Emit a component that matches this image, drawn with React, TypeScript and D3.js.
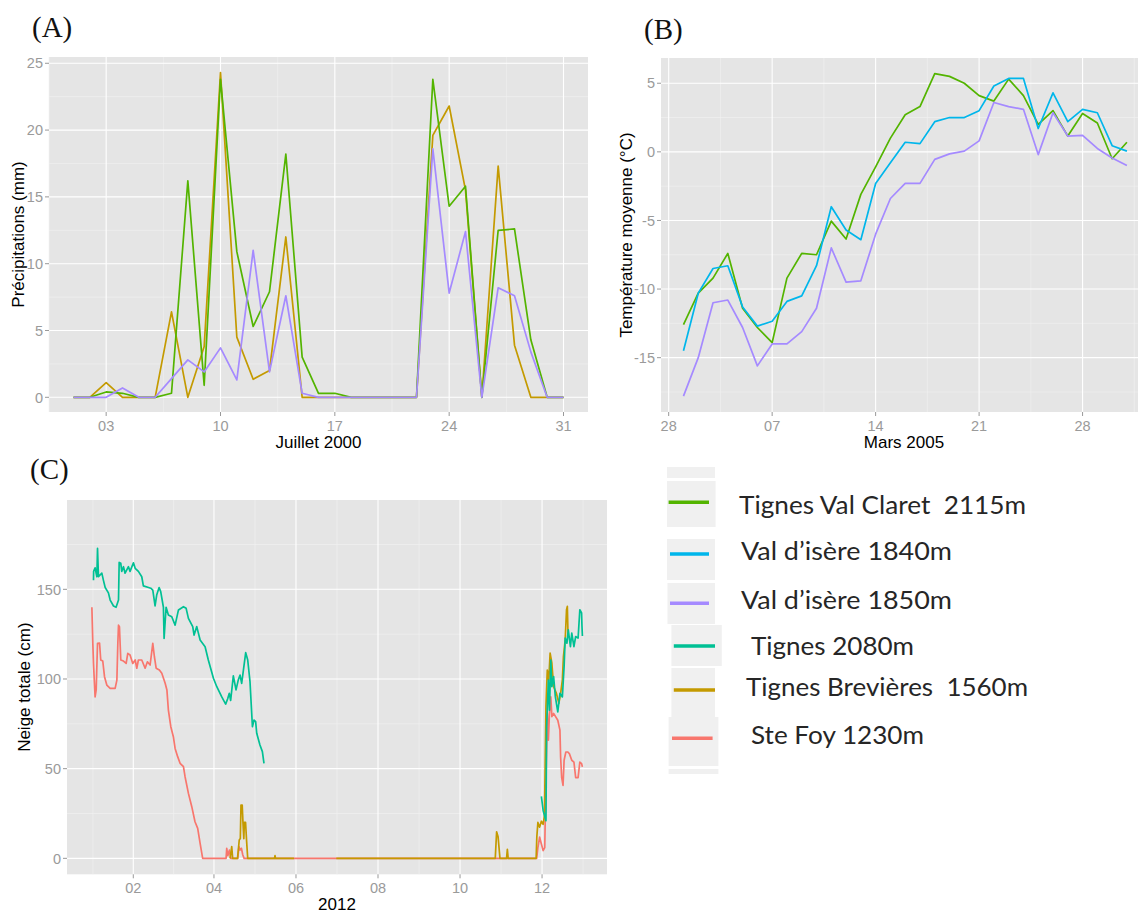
import * as d3 from 'd3';

const DAY = 86400000;
const utc = (y: number, m: number, d: number) => Date.UTC(y, m - 1, d);

// ---- (A) Juillet 2000 : précipitations (mm), 1..31 juillet
const julyDays = d3.range(1, 32);
const precipValClaret = [0, 0, 0.4, 0.3, 0, 0, 0.3, 16.2, 0.9, 23.8, 10.9, 5.3, 7.9, 18.2, 3.0, 0.3, 0.3, 0, 0, 0, 0, 0, 23.8, 14.3, 15.8, 0, 12.5, 12.6, 4.3, 0, 0];
const precipBrevieres = [0, 0, 1.1, 0, 0, 0, 6.4, 0, 3.8, 24.3, 4.5, 1.35, 2.0, 12.0, 0, 0, 0, 0, 0, 0, 0, 0, 19.6, 21.8, 15.5, 0, 17.3, 3.9, 0, 0, 0];
const precipValIsere1850 = [0, 0, 0, 0.7, 0, 0, 1.4, 2.8, 1.9, 3.7, 1.3, 11.0, 1.9, 7.6, 0.3, 0, 0, 0, 0, 0, 0, 0, 18.6, 7.8, 12.4, 0, 8.2, 7.6, 3.4, 0, 0];
const julyTickDays = [3, 10, 17, 24, 31];
const precipTicks = [0, 5, 10, 15, 20, 25];

// ---- (B) Mars 2005 : température moyenne (°C), 1..31 mars
const marchDays = d3.range(1, 32);
const tempValClaret = [-12.6, -10.3, -9.2, -7.4, -11.4, -12.8, -13.9, -9.2, -7.4, -7.5, -5.05, -6.35, -3.1, -1.1, 1.0, 2.7, 3.3, 5.7, 5.5, 5.0, 4.1, 3.7, 5.3, 4.1, 2.0, 3.0, 1.15, 2.8, 2.1, -0.5, 0.7];
const tempValIsere1840 = [-14.5, -10.3, -8.5, -8.3, -11.3, -12.7, -12.35, -10.9, -10.5, -8.3, -4.0, -5.7, -6.4, -2.3, -0.8, 0.7, 0.6, 2.2, 2.5, 2.5, 3.0, 4.8, 5.35, 5.35, 1.7, 4.3, 2.2, 3.1, 2.85, 0.45, 0.05];
const tempValIsere1850 = [-17.8, -15.0, -11.0, -10.8, -12.8, -15.6, -14.0, -14.0, -13.1, -11.4, -7.0, -9.5, -9.4, -6.0, -3.4, -2.3, -2.3, -0.55, -0.15, 0.05, 0.8, 3.6, 3.3, 3.1, -0.2, 2.85, 1.15, 1.2, 0.25, -0.45, -1.0];
const marchTickDates = [[2, 28], [3, 7], [3, 14], [3, 21], [3, 28]];
const tempTicks = [-15, -10, -5, 0, 5];

// ---- (C) 2012 : neige totale (cm), [jour depuis le 1er janvier, valeur]
const snowTignes2080: [number, number | null][] = [
  [1.4, 155], [1.5, 160], [2.6, 162], [3.9, 157], [4.4, 172.8], [5.1, 157], [7.6, 159], [8.8, 155], [10.1, 151],
  [12.5, 148], [13.8, 144], [16.3, 140.7], [18.2, 140], [20, 144], [20.5, 165], [21.7, 164.5], [22.4, 160],
  [23.7, 162.6], [24.9, 159], [27.4, 162.6], [28.6, 160], [31.1, 164.8], [32.4, 161.7], [34.8, 160], [37.3, 157],
  [38.5, 151.9], [42.3, 151], [44, 150.6], [45.5, 149.6], [47.2, 140.7], [48.4, 146.8], [50.2, 151], [51.4, 148.7],
  [53.4, 140], [53.9, 122.6], [55.4, 140], [57.1, 135.7], [59.6, 134.7], [62.1, 130], [64.6, 138.5], [68.3, 140.3],
  [70.3, 139.4], [72, 133.8], [75.2, 129.2], [76.2, 124.5], [78.2, 129.2], [80.7, 121.7], [84.4, 118], [86.8, 110.6],
  [90.6, 100.4], [93.1, 95.7], [96.8, 90], [99.7, 86], [101.2, 89], [102.4, 92], [103.4, 88], [105.4, 101.7],
  [107.4, 93.9], [109.1, 99.5], [110.4, 102.2], [111.6, 97.6], [112.9, 105], [114.6, 114.7], [116.1, 110.6],
  [117.8, 98.5], [119.6, 73.4], [120.8, 77.1], [122, 76.2], [122.8, 69.7], [125.2, 63.2], [127, 59.5], [128.2, 53],
  [200, null],
  [334.5, 34.5], [335.8, 26.7], [337.9, 21], [338.4, 73.3], [339.7, 99.4], [340.5, 82.6], [341.5, 110.6],
  [342.3, 95.7], [343.6, 101.3], [344.9, 90], [346.7, 81.7], [348.3, 92], [350.1, 90], [351.4, 107], [352.2, 122.8],
  [353.5, 120], [354.5, 127.4], [356.1, 118], [357.1, 125.6], [358.7, 118], [360, 123.7], [361.8, 122.8],
  [363.1, 138.6], [364.4, 136.8], [364.7, 129.3], [365, 124],
];
const snowBrevieres: [number, number | null][] = [
  [103, 0], [104.2, 6.5], [104.9, 0], [108.5, 0], [109.8, 10.2], [110.6, 11], [111.1, 29.7], [112, 29.7],
  [112.6, 19.5], [113.2, 11], [113.6, 20], [114.5, 20], [115.3, 9.3], [116.1, 0], [136, 0], [136.4, 1.5],
  [136.8, 0], [150.5, 0], [165, null], [182, 0], [300.2, 0], [301.2, 14.8], [302.3, 12], [303.7, 0], [308.6, 0],
  [309.2, 5], [309.8, 0], [330.6, 0], [331.1, 11.8], [331.9, 20], [333.2, 17.4], [334.5, 20.7], [335.8, 19],
  [336.8, 24], [337.9, 84.5], [338.9, 105], [340, 99.4], [341, 114.4], [342.3, 108.8], [343.6, 95.7], [345.7, 92],
  [347.5, 86.4], [348.8, 92], [350.1, 99.4], [350.9, 112.5], [352.2, 121.8], [353.2, 138.6], [353.8, 140.5],
  [354.3, 125],
];
const snowSteFoy: [number, number | null][] = [
  [0.2, 140], [0.9, 120], [1.4, 108.7], [2.6, 90], [3.4, 93.9], [4.4, 119.9], [5.9, 120], [6.8, 110.6], [8.3, 110],
  [9.6, 101.3], [11.3, 96.6], [13.8, 94.8], [17.5, 94.8], [18.8, 99.4], [19.5, 119.9], [20, 130], [20.7, 129.2],
  [21.2, 119.9], [21.7, 110.6], [23.7, 110], [25.7, 108.7], [26.9, 114.3], [28.6, 113.4], [30.6, 108.7],
  [32.4, 110.6], [33.6, 106], [34.8, 110.6], [37.3, 110.6], [39.8, 106], [41.5, 109.6], [43.5, 107.8],
  [45.5, 119.9], [46.7, 112.4], [48, 106], [50.4, 105], [52.2, 103.2], [54.7, 97.6], [56, 93.9], [57.1, 82.7],
  [58.9, 73.4], [60.8, 67.8], [62.1, 61.3], [64, 56.7], [65.8, 53], [68.3, 51.1], [69.5, 45.5], [72, 36.2],
  [74.5, 28.8], [76.9, 20.4], [78.9, 16.7], [80.7, 8.3], [82.6, 0], [100, 0], [100.5, 5.6], [101.3, 1.5],
  [102.5, 4.6], [103.5, 0], [108.7, 0], [109.6, 6.5], [110.4, 4.6], [111.4, 5.6], [112.4, 2], [113.4, 0],
  [331, 0], [331.9, 6], [333.2, 11.8], [334.5, 8], [335.8, 4.3], [337, 6], [337.9, 43.5], [338.9, 80.8],
  [339.7, 65.9], [340.5, 80.8], [341.5, 90], [342.3, 79], [343.6, 80.8], [346.7, 77], [348.3, 71.5], [348.8, 56.5],
  [349.6, 45], [350.6, 40.7], [351.4, 54.7], [352.7, 59.3], [354, 59.3], [355.3, 58.4], [357.1, 54.7],
  [358.7, 53.7], [360, 45], [361.8, 45], [363.1, 53.7], [364.4, 52.8], [365, 51],
];
const snowTickMonths = [2, 4, 6, 8, 10, 12];
const snowTicks = [0, 50, 100, 150];

// station colours (ggplot hue palette, 7 levels)
const colors = {
  steFoy: '#F8766D',
  brevieres: '#C49A00',
  valClaret: '#53B400',
  tignes2080: '#00C094',
  valIsere1840: '#00B6EB',
  valIsere1850: '#A58AFF',
};

const legendNames = ['Tignes Val Claret  2115m', 'Val d\u2019isère 1840m', 'Val d\u2019isère 1850m', 'Tignes 2080m', 'Tignes Brevières  1560m', 'Ste Foy 1230m'];
const legendColors = [colors.valClaret, colors.valIsere1840, colors.valIsere1850, colors.tignes2080, colors.brevieres, colors.steFoy];

type Pt = [number, number | null];
type Series = { color: string; points: Pt[] };

const AXIS_FONT = '"Liberation Sans", Arial, sans-serif';

function withMinor(major: number[]) {
  const out: number[] = [];
  out.push(major[0] - (major[1] - major[0]) / 2);
  for (let i = 0; i < major.length - 1; i++) out.push((major[i] + major[i + 1]) / 2);
  const n = major.length;
  out.push(major[n - 1] + (major[n - 1] - major[n - 2]) / 2);
  return out;
}

type PanelProps = {
  id: string;
  box: [number, number, number, number];
  xDomain: [number, number];
  yDomain: [number, number];
  xTicks: number[];
  xFormat: (t: number) => string;
  yTicks: number[];
  series: Series[];
  xTitle: string;
  yTitle: string;
  yTitleX: number;
  xLabelY: number;
  xTitleY: number;
  xTitleX: number;
  label: string;
  labelPos: [number, number];
};

function Panel(p: PanelProps) {
  const [x0, x1, y0, y1] = p.box;
  const x = d3.scaleUtc().domain(p.xDomain).range([x0, x1]);
  const y = d3.scaleLinear().domain(p.yDomain).range([y1, y0]);
  const xMinor = withMinor(p.xTicks);
  const yMinor = withMinor(p.yTicks);
  const line = d3
    .line<Pt>()
    .defined((d) => d[1] != null)
    .x((d) => x(d[0]))
    .y((d) => y(d[1] as number));
  const inX = (v: number) => x(v) >= x0 && x(v) <= x1;
  const inY = (v: number) => y(v) >= y0 && y(v) <= y1;
  return (
    <g>
      <defs>
        <clipPath id={p.id}>
          <rect x={x0} y={y0} width={x1 - x0} height={y1 - y0} />
        </clipPath>
      </defs>
      <rect x={x0} y={y0} width={x1 - x0} height={y1 - y0} fill="#E5E5E5" />
      {yMinor.filter(inY).map((v) => (
        <line key={'ym' + v} x1={x0} x2={x1} y1={y(v)} y2={y(v)} stroke="#F2F2F2" strokeWidth={0.6} />
      ))}
      {xMinor.filter(inX).map((v) => (
        <line key={'xm' + v} y1={y0} y2={y1} x1={x(v)} x2={x(v)} stroke="#F2F2F2" strokeWidth={0.6} />
      ))}
      {p.yTicks.map((v) => (
        <line key={'y' + v} x1={x0} x2={x1} y1={y(v)} y2={y(v)} stroke="#FFFFFF" strokeWidth={1.1} />
      ))}
      {p.xTicks.map((v) => (
        <line key={'x' + v} y1={y0} y2={y1} x1={x(v)} x2={x(v)} stroke="#FFFFFF" strokeWidth={1.1} />
      ))}
      <g clipPath={`url(#${p.id})`}>
        {p.series.map((s, i) => (
          <path key={i} d={line(s.points) || ''} fill="none" stroke={s.color} strokeWidth={1.7} strokeLinejoin="round" />
        ))}
      </g>
      {p.yTicks.map((v) => (
        <g key={'yt' + v}>
          <line x1={x0 - 4} x2={x0} y1={y(v)} y2={y(v)} stroke="#999" strokeWidth={1} />
          <text x={x0 - 6} y={y(v)} dy="0.36em" textAnchor="end" fontSize={14.5} fill="#9A9A9A" fontFamily={AXIS_FONT}>
            {v}
          </text>
        </g>
      ))}
      {p.xTicks.map((v) => (
        <g key={'xt' + v}>
          <line x1={x(v)} x2={x(v)} y1={y1} y2={y1 + 4} stroke="#999" strokeWidth={1} />
          <text x={x(v)} y={p.xLabelY} textAnchor="middle" fontSize={14.5} fill="#9A9A9A" fontFamily={AXIS_FONT}>
            {p.xFormat(v)}
          </text>
        </g>
      ))}
      <text x={p.xTitleX} y={p.xTitleY} textAnchor="middle" fontSize={17} fill="#000" fontFamily={AXIS_FONT}>
        {p.xTitle}
      </text>
      <text
        transform={`translate(${p.yTitleX},${(y0 + y1) / 2}) rotate(-90)`}
        dy="0.36em"
        textAnchor="middle"
        fontSize={17}
        fill="#000"
        fontFamily={AXIS_FONT}
      >
        {p.yTitle}
      </text>
      <text x={p.labelPos[0]} y={p.labelPos[1]} fontSize={29} fill="#111" fontFamily='"Liberation Serif", "DejaVu Serif", serif'>
        {p.label}
      </text>
    </g>
  );
}

const fmtDay = d3.utcFormat('%d');
const fmtMonth = d3.utcFormat('%m');

const daily = (year: number, month: number, days: number[], vals: number[]): Pt[] =>
  days.map((d, i) => [utc(year, month, d), vals[i]]);
const fromDoy = (pts: Pt[]): Pt[] => pts.map(([d, v]) => [utc(2012, 1, 1) + d * DAY, v]);

// legend layout (pasted legend image)
const legendBoxes = [
  [667, 467, 48, 11], [667, 481, 48.6, 46], [667, 539, 48, 41], [667.5, 583, 47.5, 41],
  [671.4, 625, 50.4, 41], [671.4, 668, 43.6, 49], [668.6, 717, 49.8, 49], [668.6, 769, 49.8, 5],
];
const legendKeys = [
  [668.6, 709, 502.3], [670, 709, 554], [670, 709, 603.3], [673.8, 715, 646], [673.8, 715, 690], [672, 712.6, 738.3],
];
const legendText = [
  [739, 514, 287], [741, 560, 211], [741, 609, 211], [751, 655, 163], [746, 696, 282], [751, 744, 173],
];

export default function App() {
  return (
    <div style={{ position: 'absolute', left: 0, top: 0 }}>
      <svg width={1138} height={915} style={{ display: 'block', background: '#fff' }}>
        <Panel
          id="clipA"
          box={[49, 588, 57, 412]}
          xDomain={[utc(2000, 7, 1) - 1.5 * DAY, utc(2000, 7, 31) + 1.5 * DAY]}
          yDomain={[-1.1, 25.47]}
          xTicks={julyTickDays.map((d) => utc(2000, 7, d))}
          xFormat={(t) => fmtDay(new Date(t))}
          yTicks={precipTicks}
          series={[
            { color: colors.brevieres, points: daily(2000, 7, julyDays, precipBrevieres) },
            { color: colors.valClaret, points: daily(2000, 7, julyDays, precipValClaret) },
            { color: colors.valIsere1850, points: daily(2000, 7, julyDays, precipValIsere1850) },
          ]}
          xTitle="Juillet 2000"
          yTitle="Précipitations (mm)"
          yTitleX={18}
          xLabelY={431}
          xTitleY={448}
          xTitleX={318.5}
          label="(A)"
          labelPos={[32, 37]}
        />
        <Panel
          id="clipB"
          box={[661, 1164.6, 58, 412]}
          xDomain={[utc(2005, 2, 28) - 0.52 * DAY, utc(2005, 4, 1) + 1.55 * DAY]}
          yDomain={[-18.96, 6.84]}
          xTicks={marchTickDates.map(([m, d]) => utc(2005, m, d))}
          xFormat={(t) => fmtDay(new Date(t))}
          yTicks={tempTicks}
          series={[
            { color: colors.valClaret, points: daily(2005, 3, marchDays, tempValClaret) },
            { color: colors.valIsere1840, points: daily(2005, 3, marchDays, tempValIsere1840) },
            { color: colors.valIsere1850, points: daily(2005, 3, marchDays, tempValIsere1850) },
          ]}
          xTitle="Mars 2005"
          yTitle="Température moyenne (°C)"
          yTitleX={626}
          xLabelY={431}
          xTitleY={448}
          xTitleX={904}
          label="(B)"
          labelPos={[644, 39]}
        />
        <Panel
          id="clipC"
          box={[67, 607, 500, 874.3]}
          xDomain={[utc(2012, 1, 1) - 18.3 * DAY, utc(2012, 12, 31) + 18.3 * DAY]}
          yDomain={[-8.9, 199.8]}
          xTicks={snowTickMonths.map((m) => utc(2012, m, 1))}
          xFormat={(t) => fmtMonth(new Date(t))}
          yTicks={snowTicks}
          series={[
            { color: colors.steFoy, points: fromDoy(snowSteFoy) },
            { color: colors.brevieres, points: fromDoy(snowBrevieres) },
            { color: colors.tignes2080, points: fromDoy(snowTignes2080) },
          ]}
          xTitle="2012"
          yTitle="Neige totale (cm)"
          yTitleX={24}
          xLabelY={893}
          xTitleY={910}
          xTitleX={337}
          label="(C)"
          labelPos={[30, 479]}
        />
        <g>
          {legendBoxes.map(([bx, by, bw, bh], i) => (
            <rect key={'lb' + i} x={bx} y={by} width={bw} height={bh} fill="#F0F0F0" />
          ))}
          {legendKeys.map(([a, b, ly], i) => (
            <line key={'lk' + i} x1={a} x2={b} y1={ly} y2={ly} stroke={legendColors[i]} strokeWidth={3.5} />
          ))}
          {legendText.map(([tx, ty, tw], i) => (
            <text
              key={'lt' + i}
              x={tx}
              y={ty}
              fontSize={25}
              fill="#262626"
              fontFamily='Lato, "Open Sans", sans-serif'
              textLength={tw}
              lengthAdjust="spacingAndGlyphs"
              style={{ whiteSpace: 'pre' }}
            >
              {legendNames[i]}
            </text>
          ))}
        </g>
      </svg>
    </div>
  );
}
